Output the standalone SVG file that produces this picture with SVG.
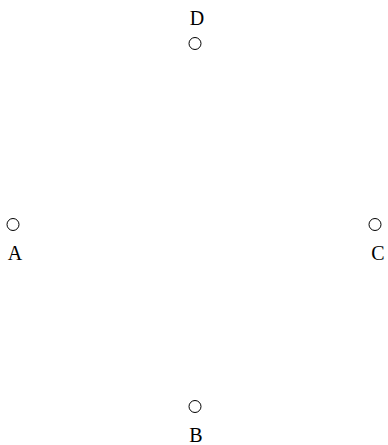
<svg xmlns="http://www.w3.org/2000/svg" width="388" height="445" viewBox="0 0 388 445">
<style>
.pt{fill:#fff;stroke:#000;stroke-width:1}
.lb{font-family:"Liberation Serif","Times New Roman",serif;font-size:20px;fill:#000;text-anchor:middle}
</style>
<rect width="388" height="445" fill="#fff"/>
<g id="connectors"></g>
<g id="D"><circle class="pt" cx="195" cy="43.5" r="6"/><text class="lb" x="197" y="25">D</text></g>
<g id="A"><circle class="pt" cx="13" cy="224.5" r="6"/><text class="lb" x="15" y="260">A</text></g>
<g id="C"><circle class="pt" cx="375" cy="224.5" r="6"/><text class="lb" x="378" y="260">C</text></g>
<g id="B"><circle class="pt" cx="195" cy="406.5" r="6"/><text class="lb" x="196" y="442">B</text></g>
</svg>
